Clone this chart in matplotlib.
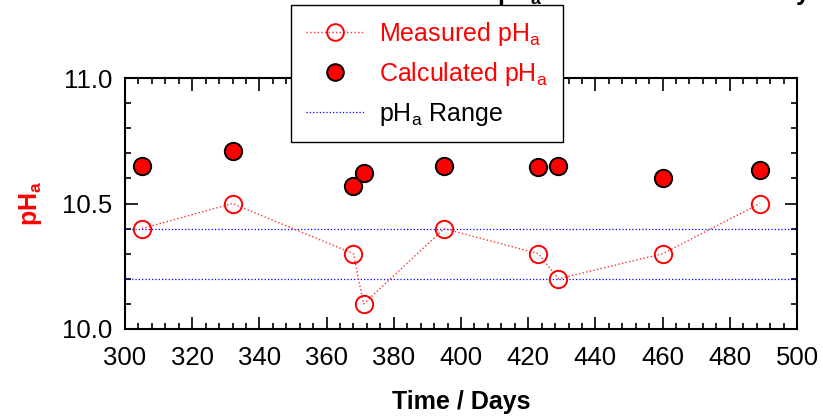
import numpy as np
import matplotlib
matplotlib.use("Agg")
import matplotlib.pyplot as plt
from matplotlib.ticker import MultipleLocator, FormatStrFormatter
from matplotlib.lines import Line2D

plt.rcParams['font.family'] = ['Liberation Sans', 'DejaVu Sans']
plt.rcParams['mathtext.default'] = 'regular'

# data
days = [305, 332, 368, 371, 395, 423, 429, 460, 489]
measured_ph = [10.40, 10.50, 10.30, 10.10, 10.40, 10.30, 10.20, 10.30, 10.50]
calculated_ph = [10.65, 10.71, 10.57, 10.62, 10.65, 10.645, 10.65, 10.60, 10.635]
ph_range = [10.2, 10.4]

fig = plt.figure(figsize=(8.23, 4.16), dpi=100)
ax = fig.add_axes([125/823, 1-329/416, 672/823, 251/416])

ax.plot(days, measured_ph, linestyle=':', color='#ff3030', linewidth=1.0,
        marker='o', markersize=12.5, markerfacecolor='none',
        markeredgecolor='red', markeredgewidth=1.4, zorder=3)
ax.plot(days, calculated_ph, linestyle='none', marker='o', markersize=12.5,
        markerfacecolor='red', markeredgecolor='black', markeredgewidth=1.4,
        zorder=4)
for r in ph_range:
    ax.axhline(r, color='blue', linestyle=':', linewidth=0.9, zorder=2)

ax.set_xlim(300, 500)
ax.set_ylim(10.0, 11.0)
ax.xaxis.set_major_locator(MultipleLocator(20))
ax.xaxis.set_minor_locator(MultipleLocator(4))
ax.yaxis.set_major_locator(MultipleLocator(0.5))
ax.yaxis.set_minor_locator(MultipleLocator(0.1))
ax.yaxis.set_major_formatter(FormatStrFormatter('%.1f'))

ax.tick_params(which='both', direction='in', top=True, right=True,
               width=1.2, labelsize=18.5)
ax.tick_params(axis='x', which='major', length=9, pad=12)
ax.tick_params(axis='y', which='major', length=9, pad=9)
ax.tick_params(which='minor', length=4.5)
for s in ax.spines.values():
    s.set_linewidth(1.5)

ax.set_xlabel('Time / Days', fontsize=18, fontweight='bold', labelpad=15)
ax.set_ylabel('pH$_a$', fontsize=18, fontweight='bold', color='red', labelpad=13)

# title sits mostly above the canvas, as in the reference
fig.text(189/823, 1.0, 'Measured and Calculated pH$_a$ Values over the Study Period',
         fontsize=18, fontweight='bold', ha='left', va='baseline')

handles = [
    Line2D([], [], linestyle=':', color='#ff3030', linewidth=1.0, marker='o',
           markersize=12, markerfacecolor='none', markeredgecolor='red',
           markeredgewidth=1.4),
    Line2D([], [], linestyle='none', marker='o', markersize=12,
           markerfacecolor='red', markeredgecolor='black', markeredgewidth=1.4),
    Line2D([], [], linestyle=':', color='blue', linewidth=0.9),
]
labels = ['Measured pH$_a$', 'Calculated pH$_a$', 'pH$_a$ Range']
leg = fig.legend(handles, labels, loc='upper left',
                 bbox_to_anchor=(291/823, 1-5/416), fontsize=18,
                 frameon=True, fancybox=False, framealpha=1,
                 edgecolor='black', handlelength=2.35, handletextpad=0.6,
                 labelspacing=0.5, borderpad=0.58, borderaxespad=0)
leg.get_frame().set_linewidth(1.0)
for t, c in zip(leg.get_texts(), ['red', 'red', 'black']):
    t.set_color(c)

fig.savefig('out.png', dpi=100)
